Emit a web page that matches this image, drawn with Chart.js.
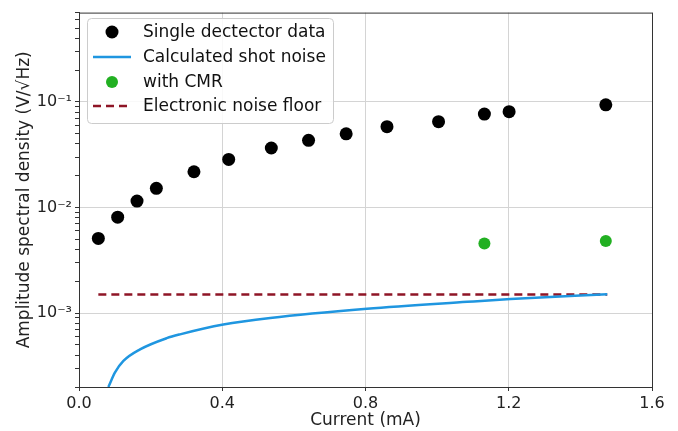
<!DOCTYPE html>
<html>
<head>
<meta charset="utf-8">
<script src="https://cdn.jsdelivr.net/npm/chart.js@4"></script>
<style>
  body { margin: 0; background: #fff; }
  #wrap { width: 678px; height: 431px; }
</style>
</head>
<body>
<div id="wrap"><canvas id="grafico" width="678" height="431"></canvas></div>
<script>
// Valores
const detCurrent = [0.054, 0.108, 0.162, 0.216, 0.321, 0.418, 0.537, 0.641, 0.746, 0.860, 1.004, 1.132, 1.201, 1.471];
const detDensity = [5.1e-3, 8.1e-3, 1.15e-2, 1.52e-2, 2.18e-2, 2.85e-2, 3.66e-2, 4.33e-2, 4.98e-2, 5.83e-2, 6.5e-2, 7.66e-2, 8.07e-2, 9.37e-2];

const shotCurrent = [0.082, 0.1006, 0.124, 0.1705, 0.245, 0.282, 0.403, 0.534, 0.804, 1.084, 1.205, 1.475];
const shotDensity = [2.0e-4, 2.75e-4, 3.53e-4, 4.54e-4, 5.8e-4, 6.3e-4, 7.8e-4, 9.0e-4, 1.10e-3, 1.28e-3, 1.36e-3, 1.51e-3];

const cmrCurrent = [1.132, 1.471];
const cmrDensity = [4.57e-3, 4.81e-3];

const floorCurrent = [0.054, 1.475];
const floorDensity = [1.5e-3, 1.5e-3];

const xTicks = [0, 0.4, 0.8, 1.2, 1.6];
const seriesLabels = ['Single dectector data', 'Calculated shot noise', 'with CMR', 'Electronic noise floor'];

const FONT = 'DejaVu Sans';

function pares(xs, ys) {
    return xs.map((x, i) => ({ x: x, y: ys[i] }));
}

function isPotencia(v) {
    const l = Math.log10(v);
    return Math.abs(l - Math.round(l)) < 1e-6;
}

const sup = { '-': '⁻', '0': '⁰', '1': '¹', '2': '²', '3': '³', '4': '⁴', '5': '⁵' };

// Moldura completa e legenda dentro da área do gráfico
const molduraPlugin = {
    id: 'moldura',
    afterDraw(chart) {
        const { ctx, chartArea: a } = chart;
        ctx.save();
        ctx.strokeStyle = '#333';
        ctx.lineWidth = 1;
        ctx.strokeRect(a.left + 0.5, a.top + 0.5, a.right - a.left, a.bottom - a.top);

        // legenda
        const bx = 87, by = 18, bw = 246, bh = 105;
        ctx.fillStyle = 'rgba(255,255,255,0.85)';
        ctx.strokeStyle = '#cccccc';
        ctx.beginPath();
        ctx.roundRect(bx + 0.5, by + 0.5, bw, bh, 4);
        ctx.fill();
        ctx.stroke();

        const rows = [32, 57, 82, 106];
        ctx.font = '17px "' + FONT + '"';
        ctx.textBaseline = 'middle';
        chart.data.datasets.forEach((ds, i) => {
            const y = rows[i];
            if (ds.showLine) {
                ctx.strokeStyle = ds.borderColor;
                ctx.lineWidth = ds.borderWidth;
                ctx.setLineDash(ds.borderDash || []);
                ctx.beginPath();
                ctx.moveTo(93, y);
                ctx.lineTo(131, y);
                ctx.stroke();
                ctx.setLineDash([]);
            } else {
                ctx.fillStyle = ds.backgroundColor;
                ctx.beginPath();
                ctx.arc(112, y, ds.pointRadius, 0, Math.PI * 2);
                ctx.fill();
            }
            ctx.fillStyle = '#111';
            ctx.fillText(ds.label, 143, y + 1);
        });
        ctx.restore();
    }
};

const ctx = document.getElementById('grafico').getContext('2d');

const grafico = new Chart(ctx, {
    type: 'scatter',
    data: {
        datasets: [
            {
                label: seriesLabels[0],
                data: pares(detCurrent, detDensity),
                backgroundColor: '#000000',
                borderColor: '#000000',
                pointRadius: 6.5,
                pointBorderWidth: 0,
                showLine: false
            },
            {
                label: seriesLabels[1],
                data: pares(shotCurrent, shotDensity),
                borderColor: '#1f96e0',
                backgroundColor: '#1f96e0',
                borderWidth: 2.5,
                pointRadius: 0,
                showLine: true,
                cubicInterpolationMode: 'monotone'
            },
            {
                label: seriesLabels[2],
                data: pares(cmrCurrent, cmrDensity),
                backgroundColor: '#22b022',
                borderColor: '#22b022',
                pointRadius: 6,
                pointBorderWidth: 0,
                showLine: false
            },
            {
                label: seriesLabels[3],
                data: pares(floorCurrent, floorDensity),
                borderColor: '#8e1526',
                backgroundColor: '#8e1526',
                borderWidth: 2.5,
                borderDash: [8, 5],
                pointRadius: 0,
                showLine: true
            }
        ]
    },
    options: {
        responsive: false,
        animation: false,
        devicePixelRatio: 1,
        layout: { padding: { top: 9, right: 26, left: 0, bottom: 0 } },
        plugins: {
            legend: { display: false },
            tooltip: { enabled: false }
        },
        scales: {
            x: {
                type: 'linear',
                min: 0,
                max: 1.6,
                afterFit: function(scale) { scale.height = 44; },
                afterBuildTicks: function(scale) {
                    scale.ticks = xTicks.map(v => ({ value: v }));
                },
                ticks: {
                    color: '#222',
                    font: { family: FONT, size: 16 },
                    padding: 3,
                    callback: function(v) { return Number(v).toFixed(1); }
                },
                grid: {
                    color: '#d4d4d4',
                    tickColor: '#333',
                    tickLength: 4
                },
                border: { color: '#333' },
                title: {
                    display: true,
                    text: 'Current (mA)',
                    color: '#222',
                    font: { family: FONT, size: 17 },
                    padding: { top: 0, bottom: 0 }
                }
            },
            y: {
                type: 'logarithmic',
                min: 2e-4,
                max: 0.7,
                afterFit: function(scale) { scale.width = 79; },
                afterBuildTicks: function(scale) {
                    const t = [];
                    for (let e = -4; e <= 0; e++) {
                        for (let m = 1; m <= 9; m++) {
                            const v = m * Math.pow(10, e);
                            if (v >= scale.min * 0.999 && v <= scale.max * 1.001) t.push({ value: v });
                        }
                    }
                    scale.ticks = t;
                },
                ticks: {
                    autoSkip: false,
                    color: '#222',
                    font: { family: FONT, size: 16 },
                    padding: 3,
                    callback: function(v) {
                        if (!isPotencia(v)) return '';
                        const e = String(Math.round(Math.log10(v)));
                        return '10' + e.split('').map(c => sup[c]).join('');
                    }
                },
                grid: {
                    color: function(c) {
                        return c.tick && isPotencia(c.tick.value) ? '#d4d4d4' : 'rgba(0,0,0,0)';
                    },
                    tickColor: '#333',
                    tickLength: 4
                },
                border: { color: '#333' },
                title: {
                    display: true,
                    text: 'Amplitude spectral density (V/√Hz)',
                    color: '#222',
                    font: { family: FONT, size: 17 },
                    padding: { top: 14, bottom: 0 }
                }
            }
        }
    },
    plugins: [molduraPlugin]
});
</script>
</body>
</html>
